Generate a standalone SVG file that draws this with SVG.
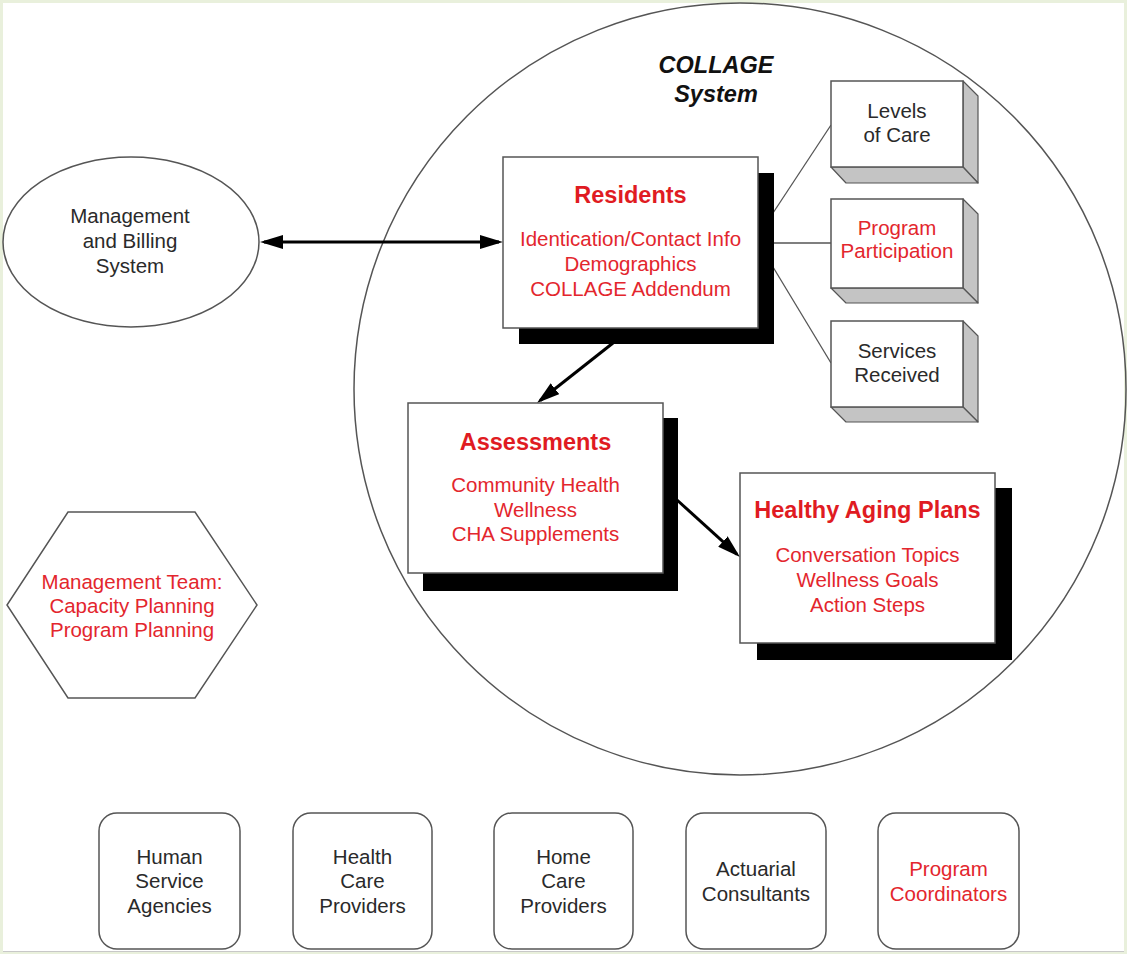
<svg xmlns="http://www.w3.org/2000/svg" width="1127" height="954" viewBox="0 0 1127 954">
<defs>
<style>
.t{font-family:"Liberation Sans",Arial,sans-serif;font-size:20.5px;text-anchor:middle;fill:#2a2a2a}
.r{fill:#e3262d}
.b{font-weight:bold;font-size:23.5px;fill:#e01b22}
.box{fill:#fff;stroke:#555;stroke-width:1.5}
.sh{fill:#000}
.side{fill:#c4c4c4;stroke:#555;stroke-width:1.2;stroke-linejoin:round}
.thin{stroke:#555;stroke-width:1.3;fill:none}
.arr{stroke:#000;stroke-width:3;fill:none}
</style>
<marker id="ah" viewBox="0 0 23 14" markerWidth="23" markerHeight="14" refX="19" refY="7" orient="auto-start-reverse" markerUnits="userSpaceOnUse">
<path d="M0,0 L23,7 L0,14 z" fill="#000"/>
</marker>
</defs>
<rect x="0" y="0" width="1127" height="954" fill="#e9f0dc"/>
<rect x="3" y="3" width="1121" height="948" fill="#fff"/>
<line x1="3" y1="951.5" x2="1124" y2="951.5" stroke="#c8c8c8" stroke-width="1"/>

<g id="collage-system">
<circle cx="740" cy="389" r="386" fill="none" stroke="#555" stroke-width="1.5"/>
<text class="t" x="716" y="73" style="font-weight:bold;font-style:italic;font-size:23.5px;fill:#111">COLLAGE</text>
<text class="t" x="716" y="102" style="font-weight:bold;font-style:italic;font-size:23.5px;fill:#111">System</text>
</g>

<g id="connectors">
<line class="arr" x1="264" y1="242" x2="499" y2="242" marker-start="url(#ah)" marker-end="url(#ah)"/>
<line class="arr" x1="613" y1="343" x2="540.1" y2="400.5" marker-end="url(#ah)"/>
<line class="arr" x1="677" y1="500" x2="737" y2="554.3" marker-end="url(#ah)"/>
<line class="thin" x1="773" y1="213" x2="831" y2="125"/>
<line class="thin" x1="773" y1="243" x2="831" y2="243"/>
<line class="thin" x1="773" y1="267" x2="831" y2="363"/>
</g>

<g id="management-billing">
<ellipse cx="131" cy="242" rx="128" ry="85" fill="#fff" stroke="#555" stroke-width="1.5"/>
<text class="t" x="130" y="223">Management</text>
<text class="t" x="130" y="248">and Billing</text>
<text class="t" x="130" y="273">System</text>
</g>

<g id="residents">
<rect class="sh" x="519" y="173" width="255" height="171"/>
<rect class="box" x="503" y="157" width="255" height="171"/>
<text class="t b" x="630.5" y="203">Residents</text>
<text class="t r" x="630.5" y="246">Identication/Contact Info</text>
<text class="t r" x="630.5" y="271">Demographics</text>
<text class="t r" x="630.5" y="296">COLLAGE Addendum</text>
</g>

<g id="levels-of-care">
<polygon class="side" points="963,81 978,96 978,183 963,167"/>
<polygon class="side" points="831,167 963,167 978,183 846,183"/>
<rect class="box" x="831" y="81" width="132" height="86"/>
<text class="t" x="897" y="118">Levels</text>
<text class="t" x="897" y="142">of Care</text>
</g>

<g id="program-participation">
<polygon class="side" points="963,199 978,214 978,303 963,288"/>
<polygon class="side" points="831,288 963,288 978,303 846,303"/>
<rect class="box" x="831" y="199" width="132" height="89"/>
<text class="t r" x="897" y="235">Program</text>
<text class="t r" x="897" y="258">Participation</text>
</g>

<g id="services-received">
<polygon class="side" points="963,321 978,336 978,422 963,407"/>
<polygon class="side" points="831,407 963,407 978,422 846,422"/>
<rect class="box" x="831" y="321" width="132" height="86"/>
<text class="t" x="897" y="358">Services</text>
<text class="t" x="897" y="382">Received</text>
</g>

<g id="assessments">
<rect class="sh" x="423" y="418" width="255" height="173"/>
<rect class="box" x="408" y="403" width="255" height="170"/>
<text class="t b" x="535.5" y="450">Assessments</text>
<text class="t r" x="535.5" y="492">Community Health</text>
<text class="t r" x="535.5" y="517">Wellness</text>
<text class="t r" x="535.5" y="541">CHA Supplements</text>
</g>

<g id="healthy-aging-plans">
<rect class="sh" x="757" y="488" width="255" height="172"/>
<rect class="box" x="740" y="473" width="255" height="170"/>
<text class="t b" x="867.5" y="518">Healthy Aging Plans</text>
<text class="t r" x="867.5" y="562">Conversation Topics</text>
<text class="t r" x="867.5" y="587">Wellness Goals</text>
<text class="t r" x="867.5" y="612">Action Steps</text>
</g>

<g id="management-team">
<polygon points="68,512 195,512 257,605 195,698 68,698 7,605" fill="#fff" stroke="#555" stroke-width="1.5"/>
<text class="t r" x="132" y="589">Management Team:</text>
<text class="t r" x="132" y="613">Capacity Planning</text>
<text class="t r" x="132" y="637">Program Planning</text>
</g>

<g id="human-service-agencies">
<rect class="box" x="99" y="813" width="141" height="136" rx="18"/>
<text class="t" x="169.5" y="864">Human</text>
<text class="t" x="169.5" y="888">Service</text>
<text class="t" x="169.5" y="913">Agencies</text>
</g>
<g id="health-care-providers">
<rect class="box" x="293" y="813" width="139" height="136" rx="18"/>
<text class="t" x="362.5" y="864">Health</text>
<text class="t" x="362.5" y="888">Care</text>
<text class="t" x="362.5" y="913">Providers</text>
</g>
<g id="home-care-providers">
<rect class="box" x="494" y="813" width="139" height="136" rx="18"/>
<text class="t" x="563.5" y="864">Home</text>
<text class="t" x="563.5" y="888">Care</text>
<text class="t" x="563.5" y="913">Providers</text>
</g>
<g id="actuarial-consultants">
<rect class="box" x="686" y="813" width="140" height="136" rx="18"/>
<text class="t" x="756" y="876">Actuarial</text>
<text class="t" x="756" y="901">Consultants</text>
</g>
<g id="program-coordinators">
<rect class="box" x="878" y="813" width="141" height="136" rx="18"/>
<text class="t r" x="948.5" y="876">Program</text>
<text class="t r" x="948.5" y="901">Coordinators</text>
</g>
</svg>
